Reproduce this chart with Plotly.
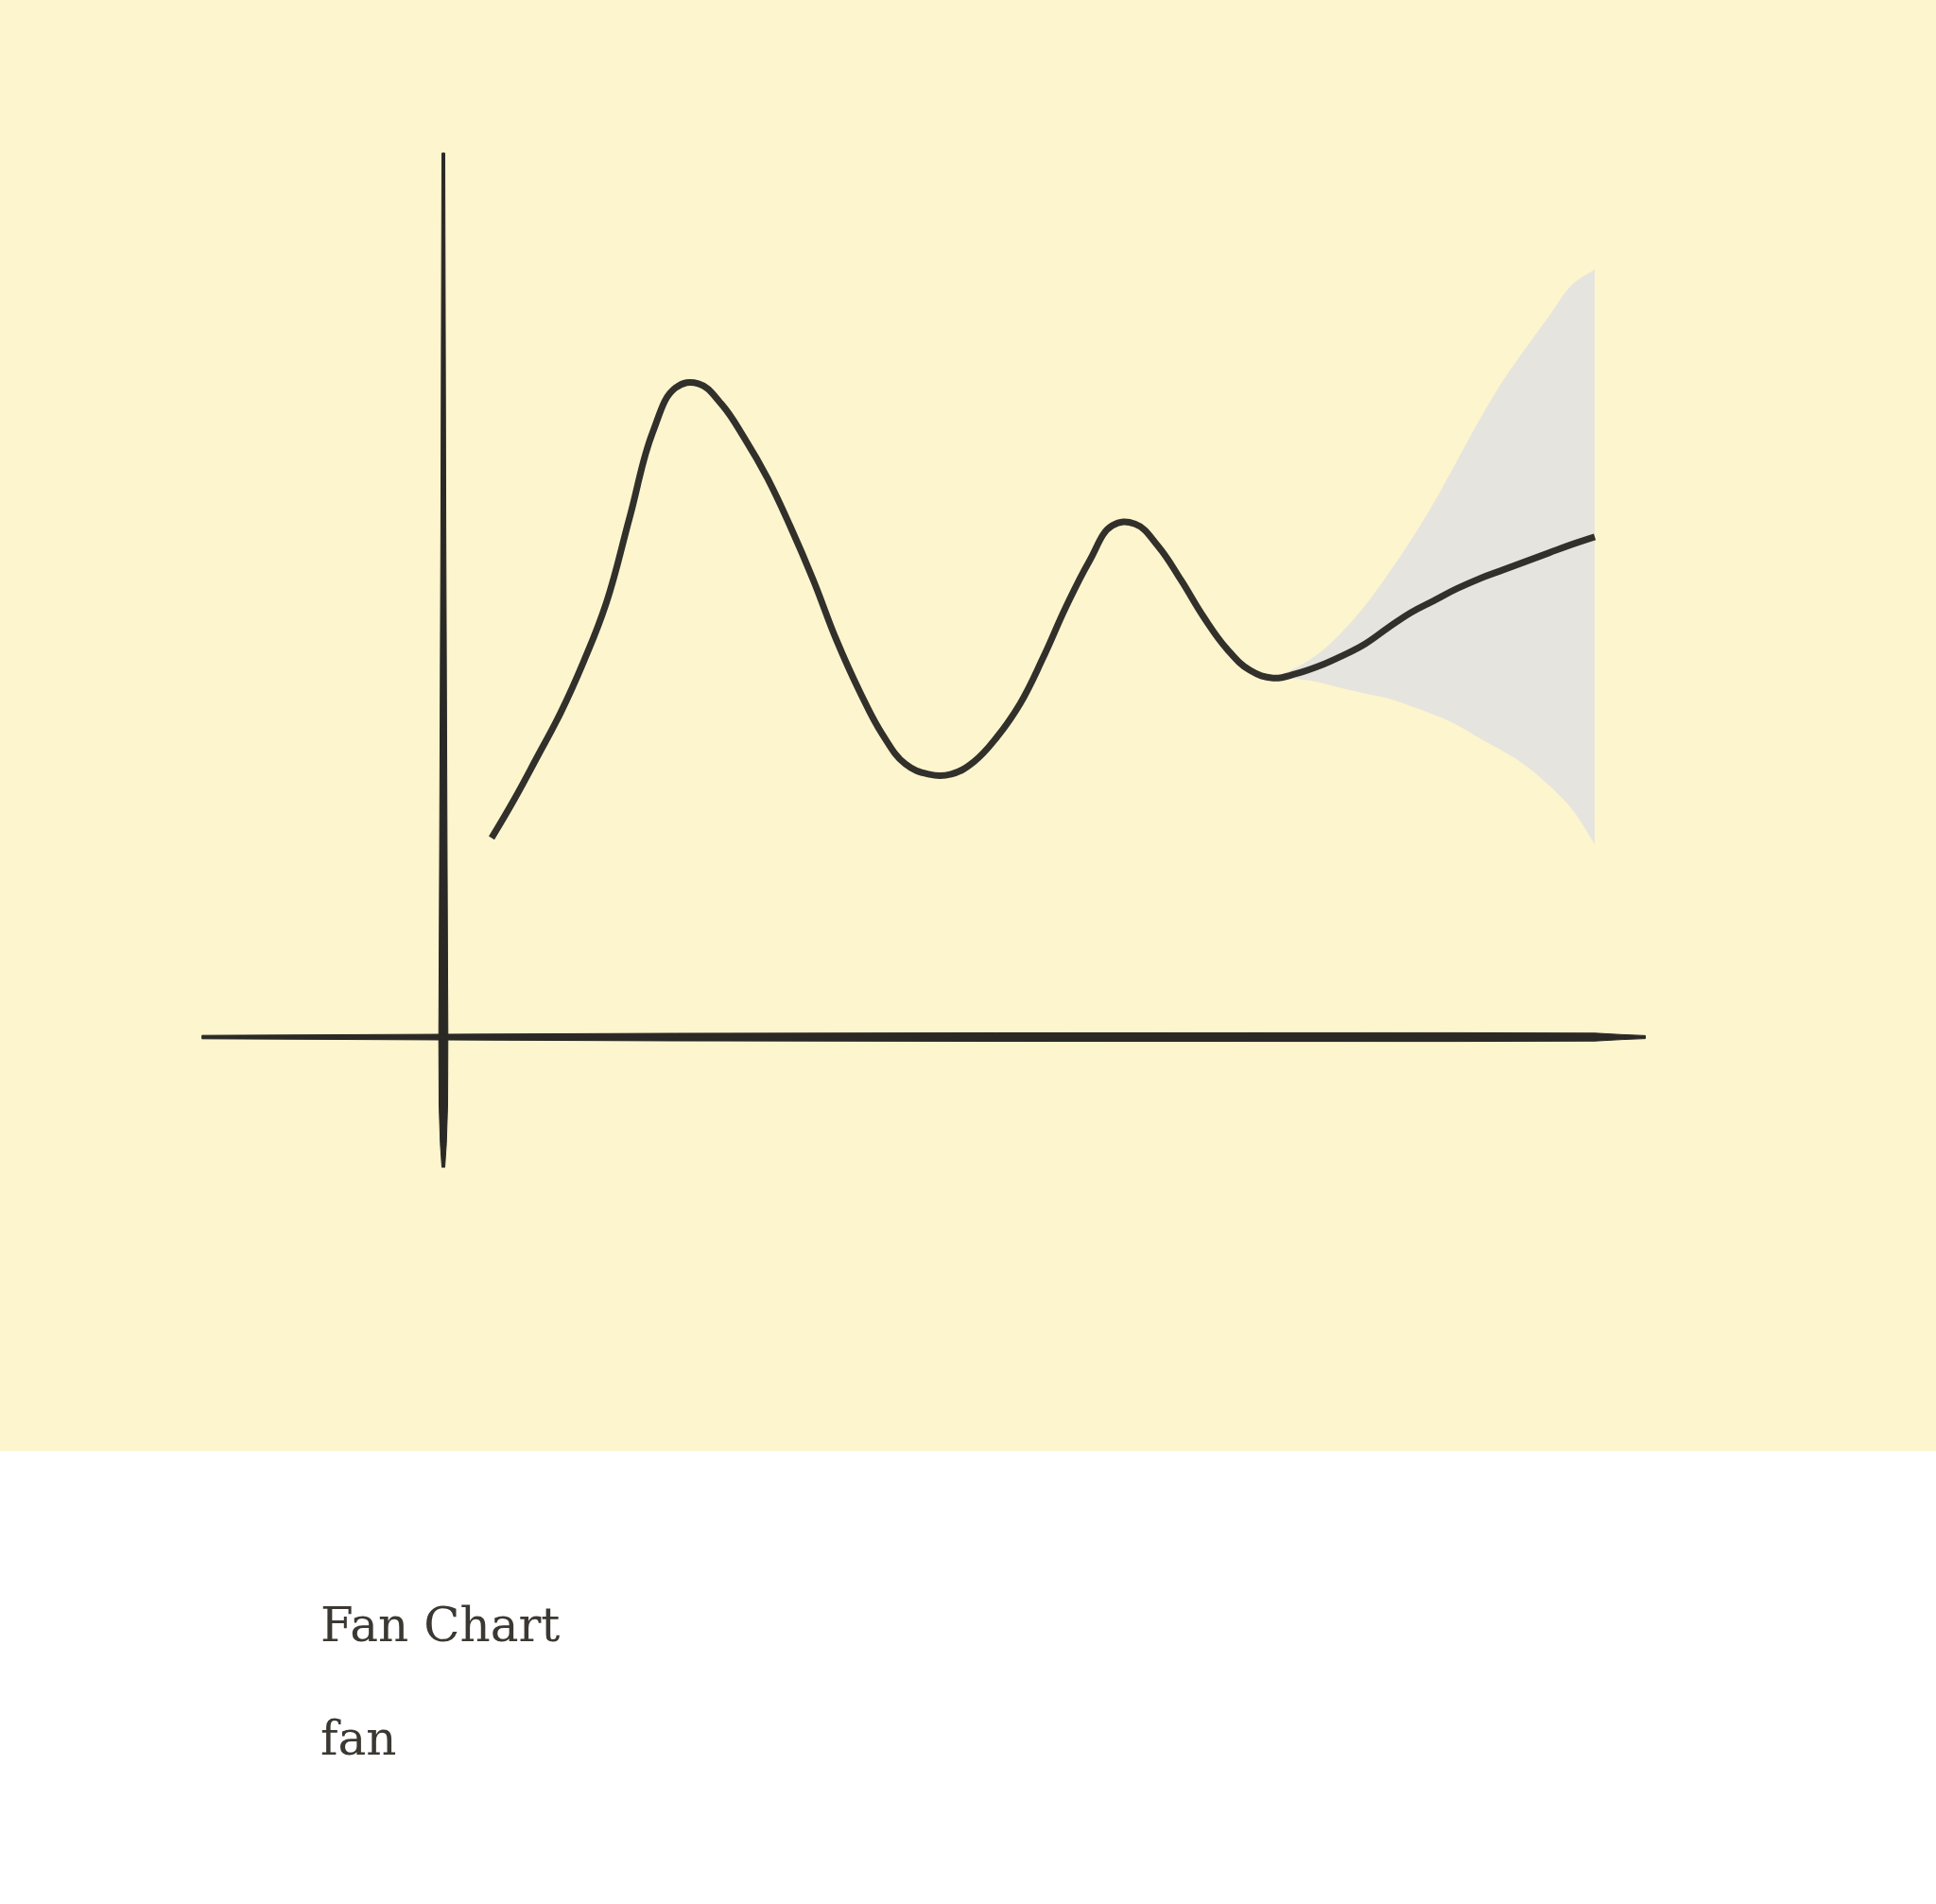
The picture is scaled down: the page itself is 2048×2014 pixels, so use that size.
import plotly.graph_objects as go

# ---------------- data ----------------
periods = [1.0, 1.5, 2.0, 2.5, 3.0, 3.5, 4.0, 4.5, 5.0, 5.5, 6.0, 6.5, 7.0, 7.5, 8.0,
           8.5, 9.0, 9.5, 10.0, 10.5, 11.0, 11.5, 12.0, 12.5, 13.0, 13.5, 14.0, 14.5,
           15.0, 15.5, 16.0, 16.5, 17.0, 17.5, 18.0, 18.5, 19.0, 19.5, 20.0, 20.5,
           21.0, 21.5, 22.0, 22.5, 23.0, 23.5, 24.0, 24.5, 25.0]
values = [23.4, 28.0, 33.0, 38.1, 44.1, 51.1, 61.0, 71.0, 76.3, 76.8, 74.4, 70.4, 65.7,
          60.0, 53.7, 46.7, 40.7, 35.6, 32.1, 30.9, 30.9, 32.4, 35.3, 39.2, 44.6, 50.6,
          55.9, 60.1, 60.3, 57.7, 53.7, 49.3, 45.6, 43.1, 42.2, 42.7, 43.6, 44.8, 46.2,
          48.1, 49.9, 51.3, 52.7, 53.9, 54.9, 55.9, 56.9, 57.9, 58.8]

fan_periods = [18.0, 18.5, 19.0, 19.5, 20.0, 20.5, 21.0, 21.5, 22.0, 22.5, 23.0, 23.5,
               24.0, 24.5, 25.0]
fan_upper = [42.3, 43.4, 45.1, 47.6, 50.7, 54.4, 58.4, 62.8, 67.7, 72.6, 77.1, 81.0,
             84.7, 88.4, 90.2]
fan_lower = [42.2, 42.1, 41.7, 41.0, 40.4, 39.8, 38.9, 37.9, 36.7, 35.1, 33.6, 31.9,
             29.6, 26.8, 22.6]

title_text = "Fan Chart"
subtitle_text = "fan"

# ---------------- styling ----------------
W, H = 2048, 2014
PLOT_H = 1535                 # height of the yellow plotting area (px)
BG = "#FDF5CE"
FAN = "#E6E4DE"
INK = "#32302B"
AXIS_INK = "#2A2926"
TEXT = "#3B3833"

# pixel scale of the data axes
X_PX = 48.625                 # px per period
Y_PX = 9.0                    # px per value unit
X_ORIGIN_PX = 471.4           # x=0 in px
Y_ORIGIN_PX = 1097            # y=0 in px

x0 = -X_ORIGIN_PX / X_PX
x1 = x0 + W / X_PX
y1 = Y_ORIGIN_PX / Y_PX
y0 = y1 - PLOT_H / Y_PX

fig = go.Figure()

# fan band
fig.add_trace(go.Scatter(x=fan_periods, y=fan_lower, mode="lines",
                         line=dict(width=0, shape="spline", smoothing=1.0, color=FAN),
                         hoverinfo="skip", showlegend=False))
fig.add_trace(go.Scatter(x=fan_periods, y=fan_upper, mode="lines",
                         line=dict(width=0, shape="spline", smoothing=1.0, color=FAN),
                         fill="tonexty", fillcolor=FAN,
                         hoverinfo="skip", showlegend=False))

# main line
fig.add_trace(go.Scatter(x=periods, y=values, mode="lines",
                         line=dict(width=7, color=INK, shape="spline", smoothing=1.2),
                         hoverinfo="skip", showlegend=False))


# ---------------- hand-drawn axes (tapered strokes) ----------------
def dx(px):
    return px / X_PX


def dy(px):
    return px / Y_PX


AX_X = -2.4 / X_PX            # the drawn y-axis sits ~2px left of x=0

# vertical axis, from y=-15.3 to 103.9
v_top, v_bot = 103.9, -15.3
v_pts_r = [(v_top, 1.5), (60, 2.6), (20, 4.0), (0, 4.8), (-8, 4.5), (-12.5, 3.2), (v_bot, 1.5)]
path = "M " + " L ".join(f"{AX_X + dx(w):.4f},{y:.3f}" for y, w in v_pts_r)
path += " L " + " L ".join(f"{AX_X - dx(w):.4f},{y:.3f}" for y, w in reversed(v_pts_r)) + " Z"
fig.add_shape(type="path", path=path, xref="x", yref="y",
              fillcolor=AXIS_INK, line=dict(color=AXIS_INK, width=1), layer="above")

# horizontal axis at y=0, from x=-5.3 to 26.1
h_pts = [(-5.3, 1.8), (0, 3.0), (5, 4.0), (12, 4.5), (22, 4.6), (25.0, 4.2), (25.6, 2.6), (26.1, 1.6)]
path = "M " + " L ".join(f"{x:.4f},{dy(w):.4f}" for x, w in h_pts)
path += " L " + " L ".join(f"{x:.4f},{-dy(w):.4f}" for x, w in reversed(h_pts)) + " Z"
fig.add_shape(type="path", path=path, xref="x", yref="y",
              fillcolor=AXIS_INK, line=dict(color=AXIS_INK, width=1), layer="above")


# ---------------- text ----------------
def py_to_paper(py):
    return (PLOT_H - py) / PLOT_H


fig.add_annotation(text=title_text, x=337 / W, y=py_to_paper(1719), xref="paper", yref="paper",
                   xanchor="left", yanchor="middle", showarrow=False,
                   font=dict(family="DejaVu Serif", size=50, color=TEXT))
fig.add_annotation(text=subtitle_text, x=337 / W, y=py_to_paper(1839), xref="paper", yref="paper",
                   xanchor="left", yanchor="middle", showarrow=False,
                   font=dict(family="DejaVu Serif", size=50, color=TEXT))

fig.update_layout(
    width=W, height=H,
    margin=dict(l=0, r=0, t=0, b=H - PLOT_H, pad=0),
    paper_bgcolor="white",
    plot_bgcolor=BG,
    showlegend=False,
    xaxis=dict(range=[x0, x1], visible=False, showgrid=False, zeroline=False, fixedrange=True),
    yaxis=dict(range=[y0, y1], visible=False, showgrid=False, zeroline=False, fixedrange=True),
)

fig.write_html("out.html", config={"displayModeBar": False},
               post_script="document.body.style.margin='0';document.body.style.overflow='hidden';")
